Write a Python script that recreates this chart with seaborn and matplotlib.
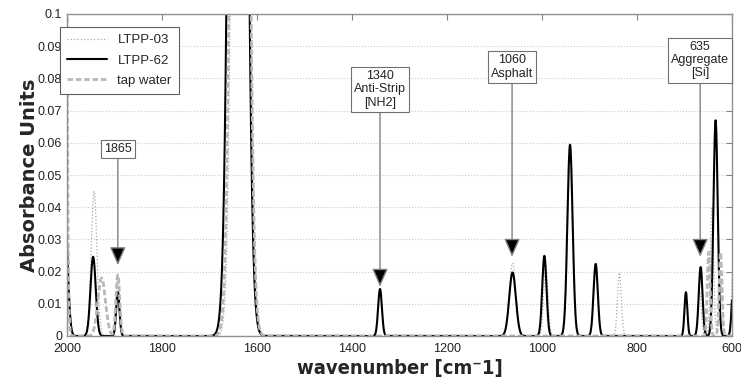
import numpy as np
import pandas as pd
import matplotlib
matplotlib.use("Agg")
import matplotlib.pyplot as plt
from matplotlib.ticker import MultipleLocator, FormatStrFormatter
import seaborn as sns

# peak tables (centre [cm-1], height [AU], width sigma [cm-1])
ltpp03_centre = [2004, 1943, 1893, 1634, 1062, 992, 941, 887, 837, 668, 642, 624, 598]
ltpp03_height = [0.035, 0.045, 0.019, 0.6, 0.0227, 0.022, 0.052, 0.020, 0.0197, 0.014, 0.040, 0.018, 0.022]
ltpp03_sigma = [6, 6, 4, 12, 7, 4.5, 5.5, 4.5, 4, 3.5, 3.5, 3, 3]

ltpp62_centre = [2005, 1945, 1893, 1640, 1341, 1062, 995, 941, 887, 697, 666, 634.5, 597]
ltpp62_height = [0.041, 0.0246, 0.0137, 0.6, 0.0146, 0.0197, 0.0249, 0.0594, 0.0224, 0.0136, 0.0214, 0.067, 0.016]
ltpp62_sigma = [6, 5.5, 3.5, 13, 4, 7, 4.5, 5.5, 4.5, 3, 4, 4.5, 3.5]

tap_centre = [2012, 1927, 1893, 1636, 649, 624]
tap_height = [2.0, 0.018, 0.019, 0.6, 0.026, 0.026]
tap_sigma = [5, 8, 4, 12.5, 3, 3]

labels = ["LTPP-03", "LTPP-62", "tap water"]

notes = ["1865", "1340\nAnti-Strip\n[NH2]", "1060\nAsphalt", "635\nAggregate\n[Si]"]
note_tip_x = [1893, 1341, 1063, 667]
note_tip_y = [0.022, 0.0153, 0.0246, 0.0246]
note_box_y = [0.058, 0.0766, 0.0835, 0.0857]

wn = np.linspace(600, 2000, 2801)


def spectrum(centres, heights, sigmas):
    y = np.zeros_like(wn)
    for c, h, s in zip(centres, heights, sigmas):
        y += h * np.exp(-((wn - c) ** 2) / (2 * s ** 2))
    return y


df = pd.DataFrame({
    "wavenumber": wn,
    labels[0]: spectrum(ltpp03_centre, ltpp03_height, ltpp03_sigma),
    labels[1]: spectrum(ltpp62_centre, ltpp62_height, ltpp62_sigma),
    labels[2]: spectrum(tap_centre, tap_height, tap_sigma),
})

sns.set_style("white")
plt.rcParams["font.family"] = ["Liberation Sans", "DejaVu Sans"]

fig = plt.figure(figsize=(7.41, 3.80), dpi=100)
ax = fig.add_axes([67 / 741, 44 / 380, 665 / 741, 322 / 380])

styles = {
    "LTPP-03": dict(color="#a8a8a8", lw=0.9, linestyle=":"),
    "LTPP-62": dict(color="black", lw=1.5, linestyle="-"),
    "tap water": dict(color="#b8b8b8", lw=2.0, linestyle=(0, (2, 1))),
}
for name in labels:
    sns.lineplot(data=df, x="wavenumber", y=name, ax=ax, label=name, **styles[name])

ax.set_xlim(2000, 600)
ax.set_ylim(0, 0.1)
ax.xaxis.set_major_locator(MultipleLocator(200))
ax.yaxis.set_major_locator(MultipleLocator(0.01))
ax.yaxis.set_major_formatter(FormatStrFormatter("%g"))
ax.grid(axis="y", color="#cccccc", linestyle=":", lw=0.8)
ax.tick_params(direction="in", top=True, right=True, length=4, labelsize=9,
               color="#808080", labelcolor="#222222")
ax.tick_params(axis="x", pad=5)
for sp in ax.spines.values():
    sp.set_color("#909090")
    sp.set_linewidth(1)

ax.set_xlabel("wavenumber [cm\u207b1]", fontsize=14.5, fontweight="bold",
              family="DejaVu Sans", fontstretch="condensed")
ax.set_ylabel("Absorbance Units", fontsize=14, fontweight="bold", family="DejaVu Sans")
ax.xaxis.set_label_coords(0.5, -0.072)
ax.yaxis.set_label_coords(-0.042, 0.5)

for txt, tx, ty, by in zip(notes, note_tip_x, note_tip_y, note_box_y):
    ax.annotate(txt, xy=(tx, ty), xytext=(tx, by), ha="center", va="center",
                fontsize=9, color="#222222", linespacing=1.15,
                bbox=dict(boxstyle="square,pad=0.25", fc="white", ec="#707070", lw=0.8),
                arrowprops=dict(arrowstyle="-|>,head_length=0.8,head_width=0.35",
                                fc="black", ec="#808080", lw=1, shrinkA=0, shrinkB=0,
                                mutation_scale=14))

leg = ax.legend(loc="upper left", bbox_to_anchor=(-0.0105, 0.96), borderaxespad=0,
                fontsize=9.5, handlelength=3.0, frameon=True, fancybox=False,
                edgecolor="#606060", framealpha=1, labelspacing=0.6, borderpad=0.55)
leg.get_frame().set_linewidth(0.8)

fig.savefig("out.png", dpi=100)
